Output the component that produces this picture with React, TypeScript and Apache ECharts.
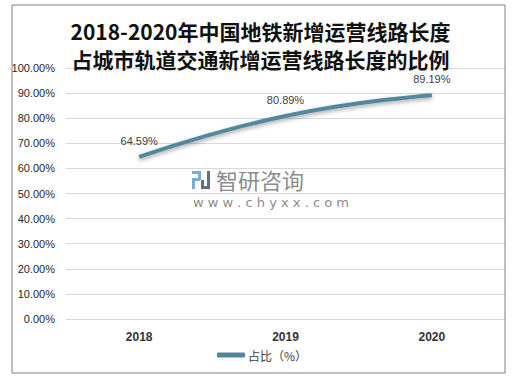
import React, { useEffect, useRef } from "react";
import * as echarts from "echarts";

const titleLines = [
  "2018-2020年中国地铁新增运营线路长度",
  "占城市轨道交通新增运营线路长度的比例",
];
const categories = ["2018", "2019", "2020"];
const seriesName = "占比（%）";
const shareValues = [64.59, 80.89, 89.19];
const yTicks = { min: 0, max: 100, interval: 10 };

export default function App() {
  const ref = useRef<HTMLDivElement>(null);
  useEffect(() => {
    if (!ref.current) return;
    const chart = echarts.init(ref.current, undefined, { renderer: "svg" });
    chart.setOption({
      animation: false,
      backgroundColor: "#ffffff",
      title: {
        text: titleLines.join("\n"),
        left: "center",
        top: 12,
        textStyle: {
          fontFamily: "'Noto Sans CJK SC', serif",
          fontSize: 21,
          fontWeight: "bold",
          lineHeight: 28,
          color: "#111111",
        },
      },
      grid: { left: 66, right: 16, top: 68, bottom: 65, containLabel: false },
      legend: {
        left: 217,
        top: 349,
        padding: 0,
        icon: "roundRect",
        itemWidth: 28,
        itemHeight: 5,
        itemGap: 4,
        itemStyle: { color: "#52879b" },
        textStyle: {
          fontFamily: "'Noto Sans CJK SC', sans-serif",
          fontSize: 12,
          color: "#404040",
          padding: [0, 0, 0, -2],
        },
        data: [seriesName],
      },
      xAxis: {
        type: "category",
        data: categories,
        axisLine: { show: true, lineStyle: { color: "#d9d9d9" } },
        axisTick: { show: false },
        axisLabel: {
          margin: 12,
          fontFamily: "'Liberation Sans', sans-serif",
          fontSize: 12,
          fontWeight: "bold",
          color: "#333333",
        },
      },
      yAxis: {
        type: "value",
        min: yTicks.min,
        max: yTicks.max,
        interval: yTicks.interval,
        axisLine: { show: false },
        axisTick: { show: false },
        splitLine: { lineStyle: { color: "#d9d9d9", width: 1 } },
        axisLabel: {
          margin: 11,
          fontFamily: "'Liberation Sans', sans-serif",
          fontSize: 11,
          color: "#262626",
          formatter: (v: number) => v.toFixed(2) + "%",
        },
      },
      graphic: [
        {
          type: "rect",
          shape: { x: 12, y: 5, width: 493, height: 368 },
          style: { fill: "none", stroke: "#7f7f7f", lineWidth: 1 },
          z: 100,
        },
        {
          type: "group",
          left: 192,
          top: 171,
          z: 1,
          children: [
            { type: "rect", shape: { x: 0, y: 0, width: 9, height: 3 }, style: { fill: "#7aaad6" } },
            { type: "rect", shape: { x: 6, y: 0, width: 3, height: 9 }, style: { fill: "#7aaad6" } },
            { type: "rect", shape: { x: 0, y: 7, width: 8, height: 3 }, style: { fill: "#7aaad6" } },
            { type: "rect", shape: { x: 0, y: 7, width: 3, height: 11 }, style: { fill: "#7aaad6" } },
            { type: "rect", shape: { x: 15, y: 0, width: 3, height: 18 }, style: { fill: "#5f6f86" } },
            { type: "rect", shape: { x: 9, y: 15, width: 9, height: 3 }, style: { fill: "#5f6f86" } },
            { type: "rect", shape: { x: 9, y: 9, width: 3, height: 8 }, style: { fill: "#5f6f86" } },
          ],
        },
        {
          type: "text",
          left: 216,
          top: 168,
          z: 1,
          style: {
            text: "智研咨询",
            font: "normal 22px 'Noto Sans CJK SC'",
            fill: "#8c8c8c",
          },
        },
        {
          type: "text",
          left: 193,
          top: 196,
          z: 1,
          style: {
            text: "w w w . c h y x x . c o m",
            font: "normal 13px 'DejaVu Sans'",
            fill: "#8c8c8c",
          },
        },
      ],
      series: [
        {
          name: seriesName,
          type: "line",
          data: shareValues,
          smooth: true,
          showSymbol: true,
          symbol: "circle",
          symbolSize: 0.5,
          lineStyle: {
            color: "#52879b",
            width: 4,
            shadowColor: "rgba(0,0,0,0.35)",
            shadowBlur: 4,
            shadowOffsetY: 2,
          },
          itemStyle: { color: "#52879b" },
          label: {
            show: true,
            position: "top",
            distance: 10,
            fontFamily: "'Liberation Sans', sans-serif",
            fontSize: 11,
            color: "#404040",
            formatter: (p: any) => p.value.toFixed(2) + "%",
          },
          z: 5,
        },
      ],
    });
    return () => chart.dispose();
  }, []);
  return (
    <div
      ref={ref}
      style={{ position: "absolute", left: 0, top: 0, width: 521, height: 384 }}
    />
  );
}
